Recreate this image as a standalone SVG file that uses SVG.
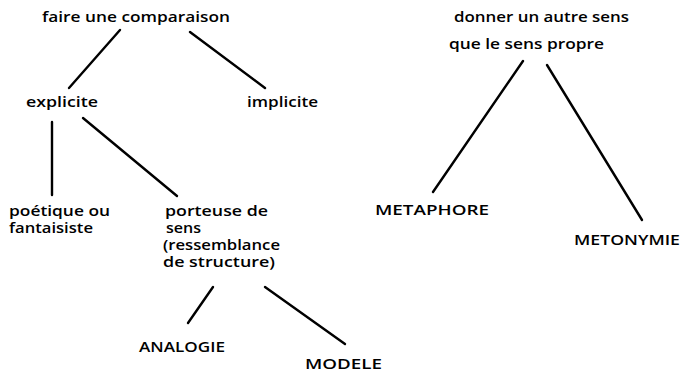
<svg xmlns="http://www.w3.org/2000/svg" width="690" height="376" viewBox="0 0 690 376">
<style>
text{font-family:"Open Sans","Liberation Sans",sans-serif;font-size:15px;font-weight:600;fill:#000}
.ml{font-size:13.5px}
.caps{font-size:15px}
line{stroke:#000;stroke-width:2.4;stroke-linecap:round}
</style>
<rect width="690" height="376" fill="#fff"/>
<g id="connectors">
<line x1="120" y1="30" x2="69" y2="88"/>
<line x1="190" y1="32" x2="265" y2="88"/>
<line x1="52" y1="122" x2="52" y2="195"/>
<line x1="83" y1="118" x2="177" y2="196"/>
<line x1="213" y1="287" x2="188" y2="323"/>
<line x1="265" y1="287" x2="345" y2="344"/>
<line x1="523" y1="61" x2="433" y2="192"/>
<line x1="547" y1="65" x2="642" y2="220"/>
</g>
<g id="n-comparaison"><text x="42" y="22" textLength="188" lengthAdjust="spacingAndGlyphs">faire une comparaison</text></g>
<g id="n-explicite"><text x="26" y="107" textLength="72" lengthAdjust="spacingAndGlyphs">explicite</text></g>
<g id="n-implicite"><text x="247" y="107" textLength="71" lengthAdjust="spacingAndGlyphs">implicite</text></g>
<g id="n-poetique">
<text class="ml" x="9" y="216" textLength="101" lengthAdjust="spacingAndGlyphs">poétique ou</text>
<text class="ml" x="9" y="233" textLength="84" lengthAdjust="spacingAndGlyphs">fantaisiste</text>
</g>
<g id="n-porteuse">
<text class="ml" x="165" y="216" textLength="103" lengthAdjust="spacingAndGlyphs">porteuse de</text>
<text class="ml" x="166" y="233" textLength="35" lengthAdjust="spacingAndGlyphs">sens</text>
<text class="ml" x="163" y="250" textLength="117" lengthAdjust="spacingAndGlyphs">(ressemblance</text>
<text class="ml" x="163" y="267" textLength="112" lengthAdjust="spacingAndGlyphs">de structure)</text>
</g>
<g id="n-analogie"><text class="caps" x="139" y="352" textLength="86" lengthAdjust="spacingAndGlyphs">ANALOGIE</text></g>
<g id="n-modele"><text class="caps" x="305" y="369" textLength="77" lengthAdjust="spacingAndGlyphs">MODELE</text></g>
<g id="n-sens">
<text x="454" y="22" textLength="175" lengthAdjust="spacingAndGlyphs">donner un autre sens</text>
<text x="449" y="49" textLength="155" lengthAdjust="spacingAndGlyphs">que le sens propre</text>
</g>
<g id="n-metaphore"><text class="caps" x="375" y="215" textLength="114" lengthAdjust="spacingAndGlyphs">METAPHORE</text></g>
<g id="n-metonymie"><text class="caps" x="574" y="245" textLength="106" lengthAdjust="spacingAndGlyphs">METONYMIE</text></g>
</svg>
